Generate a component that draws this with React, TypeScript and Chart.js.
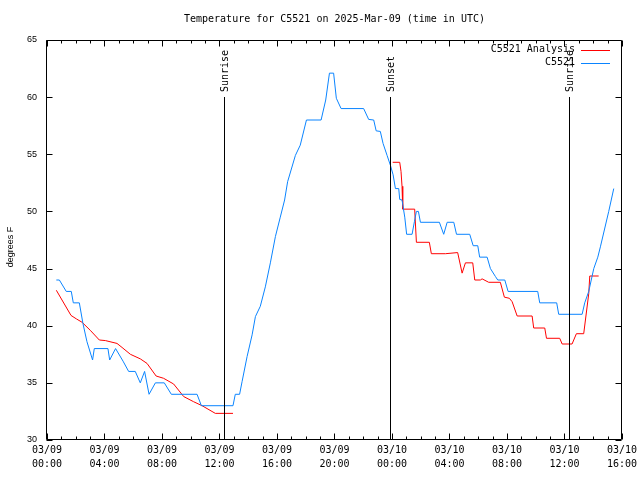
import React, { useEffect, useRef } from "react";
import { Chart, registerables } from "chart.js";

Chart.register(...registerables);

const TITLE = "Temperature for C5521 on 2025-Mar-09 (time in UTC)";
const Y_LABEL = "degrees F";
const SERIES_NAMES = ["C5521 Analysis", "C5521"];

const xTickLabels: string[][] = [
  ["03/09", "00:00"], ["03/09", "04:00"], ["03/09", "08:00"], ["03/09", "12:00"],
  ["03/09", "16:00"], ["03/09", "20:00"], ["03/10", "00:00"], ["03/10", "04:00"],
  ["03/10", "08:00"], ["03/10", "12:00"], ["03/10", "16:00"],
];

// hours since 03/09 00:00 UTC
const sunHours = [12.3, 23.83, 36.3];
const sunLabels = ["Sunrise", "Sunset", "Sunrise"];

const blueHours = [0.65, 0.86, 1.34, 1.69, 1.83, 2.25, 2.5, 2.78, 3.17, 3.29, 4.24, 4.36, 4.77, 5.29, 5.68, 6.14, 6.49, 6.79, 7.1, 7.54, 8.16, 8.65, 10.44, 10.74, 12.94, 13.1, 13.4, 13.57, 13.92, 14.27, 14.5, 14.84, 15.19, 15.54, 15.89, 16.23, 16.53, 16.74, 17.28, 17.62, 18.05, 19.07, 19.39, 19.65, 19.94, 20.13, 20.46, 22.03, 22.38, 22.73, 22.9, 23.19, 23.38, 23.66, 23.9, 24.08, 24.24, 24.47, 24.54, 24.7, 24.89, 25.02, 25.4, 25.56, 25.7, 25.84, 25.98, 27.3, 27.6, 27.84, 28.3, 28.49, 29.41, 29.65, 29.97, 30.1, 30.62, 30.85, 31.2, 31.36, 31.85, 32.08, 34.14, 34.28, 35.46, 35.6, 37.23, 37.41, 37.69, 38.04, 38.32, 38.5, 39.08, 39.43];
const blueTemps = [44.0, 44.0, 43.0, 43.0, 42.0, 42.0, 40.2, 38.6, 37.0, 38.0, 38.0, 37.0, 38.0, 36.9, 36.0, 36.0, 35.0, 36.0, 34.0, 35.0, 35.0, 34.0, 34.0, 33.0, 33.0, 34.0, 34.0, 35.1, 37.3, 39.2, 40.8, 41.7, 43.4, 45.5, 47.8, 49.5, 51.0, 52.6, 54.9, 55.8, 58.0, 58.0, 59.75, 62.1, 62.1, 59.9, 59.0, 59.0, 58.05, 58.0, 57.05, 57.0, 55.95, 54.9, 54.0, 53.2, 52.0, 52.0, 51.05, 51.0, 49.5, 48.0, 48.0, 49.1, 50.0, 50.0, 49.05, 49.05, 48.0, 49.05, 49.05, 48.0, 48.0, 47.0, 47.0, 46.0, 46.0, 45.0, 44.3, 44.0, 44.0, 43.0, 43.0, 42.0, 42.0, 41.0, 41.0, 42.0, 43.0, 45.0, 46.0, 46.9, 50.0, 52.0];

const redHours = [0.65, 1.67, 2.04, 2.44, 3.01, 3.64, 4.06, 4.87, 5.22, 5.8, 6.49, 6.96, 7.59, 8.11, 8.81, 9.51, 10.2, 10.79, 11.71, 12.94, 13.0, 24.05, 24.54, 24.63, 24.7, 24.75, 25.58, 25.7, 26.6, 26.74, 27.72, 28.57, 28.88, 29.11, 29.62, 29.76, 30.15, 30.27, 30.73, 31.54, 31.82, 32.17, 32.36, 32.71, 33.75, 33.86, 34.63, 34.75, 35.67, 35.84, 36.53, 36.83, 37.34, 37.69, 37.76, 38.38];
const redTemps: (number | null)[] = [43.1, 40.9, 40.6, 40.3, 39.6, 38.75, 38.7, 38.45, 38.1, 37.5, 37.1, 36.7, 35.6, 35.4, 34.9, 33.8, 33.35, 33.0, 32.33, 32.33, null, 54.3, 54.3, 53.5, 52.2, 50.2, 50.2, 47.3, 47.3, 46.3, 46.3, 46.4, 44.6, 45.5, 45.5, 44.0, 44.0, 44.1, 43.8, 43.8, 42.5, 42.4, 42.1, 40.85, 40.85, 39.8, 39.8, 38.9, 38.9, 38.4, 38.4, 39.3, 39.3, 42.8, 44.35, 44.35];

const RED = "#ff0000";
const BLUE = "#0a84ff";
const MONO = "'DejaVu Sans Mono', monospace";
const SANS = "'Liberation Sans', Arial, sans-serif";

const overlay = {
  id: "overlay",
  afterDraw(chart: any) {
    const { ctx, chartArea, scales } = chart;
    const { left, right, top, bottom } = chartArea;
    const x = scales.x;
    const y = scales.y;
    ctx.save();
    ctx.strokeStyle = "#000";
    ctx.lineWidth = 1;
    const L = Math.round(left) - 0.5;
    const R = Math.round(right) - 0.5;
    const T = Math.round(top) + 0.5;
    const B = Math.round(bottom) - 0.5;
    ctx.beginPath();
    ctx.rect(L, T, R - L, B - T);
    // y ticks
    for (let v = 30; v <= 65; v += 5) {
      const py = Math.round(y.getPixelForValue(v)) + 0.5;
      ctx.moveTo(L, py); ctx.lineTo(L + 6, py);
      ctx.moveTo(R, py); ctx.lineTo(R - 6, py);
    }
    // x ticks (hourly minor, 4-hourly major)
    for (let h = 0; h <= 40; h += 1) {
      const px = Math.round(x.getPixelForValue(h)) + 0.5;
      const len = h % 4 === 0 ? 6 : 3;
      ctx.moveTo(px, B); ctx.lineTo(px, B - len);
      ctx.moveTo(px, T); ctx.lineTo(px, T + len);
    }
    ctx.stroke();

    // sun lines
    const topY = y.getPixelForValue(60);
    ctx.font = `10px ${MONO}`;
    ctx.fillStyle = "#000";
    sunHours.forEach((h, i) => {
      const px = Math.round(x.getPixelForValue(h)) + 0.5;
      ctx.beginPath();
      ctx.moveTo(px, Math.round(topY));
      ctx.lineTo(px, B);
      ctx.stroke();
      ctx.save();
      ctx.translate(px + 1, Math.round(topY) - 5);
      ctx.rotate(-Math.PI / 2);
      ctx.textAlign = "left";
      ctx.textBaseline = "middle";
      ctx.fillText(sunLabels[i], 0, 0);
      ctx.restore();
    });

    // legend
    const legColors = [RED, BLUE];
    const legY = [49.5, 62.5];
    ctx.textAlign = "right";
    ctx.textBaseline = "middle";
    SERIES_NAMES.forEach((name, i) => {
      ctx.fillStyle = "#000";
      ctx.fillText(name, 575, legY[i]);
      ctx.strokeStyle = legColors[i];
      ctx.beginPath();
      ctx.moveTo(581, Math.round(legY[i]) + 0.5);
      ctx.lineTo(610, Math.round(legY[i]) + 0.5);
      ctx.stroke();
    });

    // title
    ctx.fillStyle = "#000";
    ctx.textAlign = "center";
    ctx.fillText(TITLE, (left + right) / 2, 19.5);

    // y label
    ctx.save();
    ctx.translate(11, 247);
    ctx.rotate(-Math.PI / 2);
    ctx.font = `9px ${SANS}`;
    ctx.textAlign = "center";
    ctx.textBaseline = "middle";
    ctx.fillText(Y_LABEL, 0, 0);
    ctx.restore();
    ctx.restore();
  },
};

export default function App() {
  const ref = useRef<HTMLCanvasElement | null>(null);
  useEffect(() => {
    if (!ref.current) return;
    const blue = blueHours.map((h, i) => ({ x: h, y: blueTemps[i] }));
    const red = redHours.map((h, i) => ({ x: h, y: redTemps[i] }));
    const chart = new Chart(ref.current, {
      type: "line",
      data: {
        datasets: [
          { label: SERIES_NAMES[1], data: blue as any, borderColor: BLUE, borderWidth: 1, pointRadius: 0, tension: 0, spanGaps: false },
          { label: SERIES_NAMES[0], data: red as any, borderColor: RED, borderWidth: 1, pointRadius: 0, tension: 0, spanGaps: false },
        ],
      },
      options: {
        responsive: false,
        animation: false,
        devicePixelRatio: 1,
        layout: { padding: { top: 40, right: 18, left: 0, bottom: 0 } },
        plugins: { legend: { display: false }, title: { display: false }, tooltip: { enabled: false } },
        scales: {
          x: {
            type: "linear",
            min: 0,
            max: 40,
            grid: { display: false, drawTicks: false },
            border: { display: false },
            afterFit: (s: any) => { s.height = 40; },
            ticks: {
              stepSize: 4,
              autoSkip: false,
              maxRotation: 0,
              padding: 3,
              color: "#000",
              font: { family: MONO, size: 10, lineHeight: "14.5px" },
              callback: (v: any) => xTickLabels[Math.round(Number(v) / 4)] ?? "",
            },
          },
          y: {
            type: "linear",
            min: 30,
            max: 65,
            grid: { display: false, drawTicks: false },
            border: { display: false },
            afterFit: (s: any) => { s.width = 47; },
            ticks: {
              stepSize: 5,
              padding: 10,
              color: "#000",
              font: { family: SANS, size: 9 },
            },
          },
        },
      },
      plugins: [overlay],
    });
    return () => chart.destroy();
  }, []);
  return (
    <div style={{ position: "fixed", left: 0, top: 0, width: 640, height: 480, background: "#fff" }}>
      <canvas ref={ref} width={640} height={480} style={{ width: 640, height: 480 }} />
    </div>
  );
}
